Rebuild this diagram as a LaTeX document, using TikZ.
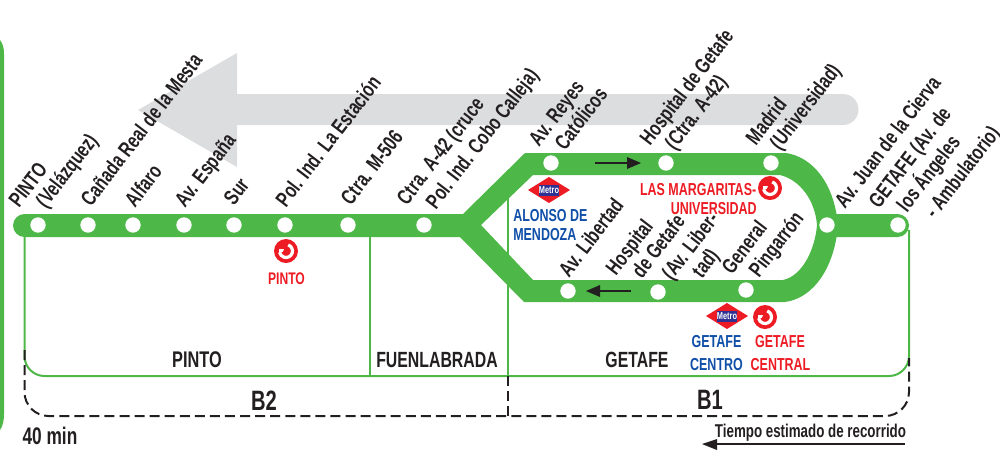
\documentclass[tikz,border=0pt]{standalone}
\usepackage{fontspec}
\setmainfont{Liberation Sans}
\newfontfamily\cnA[FakeStretch=0.72]{Liberation Sans}
\newfontfamily\cnB[FakeStretch=0.74]{Liberation Sans}
\definecolor{lineG}{HTML}{4DB848}
\definecolor{arrG}{HTML}{DCDDDF}
\definecolor{redT}{HTML}{ED1C24}
\definecolor{blueT}{HTML}{0F4FA8}
\definecolor{metroB}{HTML}{2E3192}
\definecolor{inkT}{HTML}{231F20}
\tikzset{
  diag/.style={anchor=base west,rotate=52.5,inner sep=0pt,text=inkT,font=\cnB\bfseries\fontsize{16}{18}\selectfont,xshift=-1.2pt},
  hlab/.style={anchor=base,inner sep=0pt,font=\cnA\bfseries\fontsize{#1}{16}\selectfont},
  stopdot/.style={circle,fill=white,draw=none,minimum size=11.5pt,inner sep=0pt},
  thinG/.style={draw=lineG,line width=1.5pt},
  dashB/.style={draw=inkT,line width=1.5pt,dash pattern=on 7.5pt off 3.8pt},
  renfe/.pic={
    \fill[redT] (0,0) circle (12);
    \draw[white,line width=2.4pt] (-70:6.5) arc (-70:170:6.5);
    \fill[white] (-7,-2) rectangle (-1,1);
    \fill[redT] (0.5,0.5) circle (3.4);
  },
  metro/.pic={
    \fill[redT] (-21,0) -- (0,-13) -- (21,0) -- (0,13) -- cycle;
    \fill[metroB] (-10,-5.5) rectangle (10,5.5);
    \node[text=white,inner sep=0pt,font=\cnB\bfseries\fontsize{7.5}{9}\selectfont] at (0,0) {Metro};
  }
}
\begin{document}
\begin{tikzpicture}[x=0.75pt,y=-0.75pt]
\useasboundingbox (0,0) rectangle (1000,451);
% left bar
\fill[lineG] (0,40) .. controls (3,44) and (4,48) .. (4,54) -- (4,414) .. controls (4,420) and (3,426) .. (0,430) -- cycle;
% grey arrow
\fill[arrG] (138,110) -- (237,53) -- (237,94) -- (843,94) arc (-90:90:15.5) -- (237,125) -- (237,167) -- cycle;
% thin frames
\draw[thinG] (24.5,230) -- (24.5,356) arc (180:90:20) -- (889,376) arc (90:0:20) -- (909,230);
\draw[thinG] (370,230) -- (370,376);
\draw[thinG] (507.5,195) -- (507.5,376);
% dashed frame
\draw[dashB] (24.5,350) -- (24.5,392) arc (180:90:24) -- (885,416) arc (90:0:24) -- (909,358);
\draw[dashB] (507.5,376) -- (507.5,416);
% main line
\fill[lineG] (24.5,214) -- (465,214) -- (465,237) -- (24.5,237) arc (90:270:11.5) -- cycle;
\fill[lineG] (830,214) -- (897.5,214) arc (-90:90:11.5) -- (830,237) -- cycle;
\fill[lineG,even odd rule]
  (452,225) -- (463,214) -- (525,153) -- (786,153) .. controls (812,157) and (834,182) .. (838,225)
  .. controls (835,265) and (815,298) .. (785,302) -- (524,302) -- (460,237) -- cycle
  (481,225) -- (533,175) -- (780,175) .. controls (800,180) and (815,200) .. (817,225)
  .. controls (815,250) and (802,276) .. (783,280) -- (533,280) -- cycle;
% stops
\foreach \n/\x/\y in {s1/38/225,s2/88/225,s3/133/225,s4/184/225,s5/234/225,s6/285/225,s7/348/225,s8/424/225,s9/551/163,s10/666/163,s11/771/163,s12/827/225,s13/898/225,s14/568/291,s15/658/292,s16/746/290}
  \node[stopdot] (\n) at (\x,\y) {};
% direction arrows
\coordinate (ta) at (595,163); \coordinate (tb) at (641,163);
\fill[inkT] (ta) ++(0,-1) rectangle (628,164);
\fill[inkT] (tb) -- (627,157) -- (627,169) -- cycle;
\coordinate (ba) at (631,291); \coordinate (bb) at (586,291);
\fill[inkT] (ba) ++(0,-1) rectangle (599,292);
\fill[inkT] (bb) -- (600,285) -- (600,297) -- cycle;
\coordinate (ca) at (905,444); \coordinate (cb) at (702,444);
\fill[inkT] (ca) ++(0,-1.2) rectangle (716,445.2);
\fill[inkT] (cb) -- (717,439) -- (717,450) -- cycle;
% logos
\pic at (286,251) {renfe};
\pic at (770,188) {renfe};
\pic at (765,317) {renfe};
\pic at (549,190) {metro};
\pic at (727,316) {metro};
% diagonal labels
\node[diag] (d1) at (20,207) {PINTO};
\node[diag] (d2) at (47,208) {(Velázquez)};
\node[diag] (d3) at (92,206) {Cañada Real de la Mesta};
\node[diag] (d4) at (136,207) {Alfaro};
\node[diag] (d5) at (186,207) {Av. España};
\node[diag] (d6) at (235,205) {Sur};
\node[diag] (d7) at (287,207) {Pol. Ind. La Estación};
\node[diag] (d8) at (352,205) {Ctra. M-506};
\node[diag] (d9) at (408,205) {Ctra. A-42 (cruce};
\node[diag] (d10) at (437,209) {Pol. Ind. Cobo Calleja)};
\node[diag] (d11) at (540,146) {Av. Reyes};
\node[diag] (d12) at (566,150) {Católicos};
\node[diag] (d13) at (651,145) {Hospital de Getafe};
\node[diag] (d14) at (676,150) {(Ctra. A-42)};
\node[diag] (d15) at (757,145) {Madrid};
\node[diag] (d16) at (781,150) {(Universidad)};
\node[diag] (d17) at (846,208) {Av. Juan de la Cierva};
\node[diag] (d18) at (880,208) {GETAFE (Av. de};
\node[diag] (d19) at (908,212) {los Ángeles};
\node[diag] (d20) at (936,218) {- Ambulatorio)};
\node[diag] (d21) at (570,277) {Av. Libertad};
\node[diag] (d22) at (617,275) {Hospital};
\node[diag] (d23) at (643,278) {de Getafe};
\node[diag] (d24) at (673,280) {(Av. Liber-};
\node[diag] (d25) at (703,278) {tad)};
\node[diag] (d26) at (733,274) {General};
\node[diag] (d27) at (760,277) {Pingarrón};
% horizontal labels
\node[hlab=12.6,text=redT] (h1) at (286.5,284) {PINTO};
\node[hlab=17,text=inkT] (h2) at (197,367.5) {PINTO};
\node[hlab=16.5,text=inkT] (h3) at (437,367.5) {FUENLABRADA};
\node[hlab=16.5,text=inkT] (h4) at (637,367.5) {GETAFE};
\node[hlab=21,text=inkT] (h5) at (264,410) {B2};
\node[hlab=21,text=inkT] (h6) at (710,409) {B1};
\node[hlab=18,text=inkT] (h7) at (50,444) {40 min};
\node[hlab=13.9,text=inkT] (h8) at (810.5,437) {Tiempo estimado de recorrido};
\node[hlab=13,text=blueT,anchor=base west] (h9) at (513,221) {ALONSO DE};
\node[hlab=13,text=blueT,anchor=base west] (h10) at (513,240) {MENDOZA};
\node[hlab=13,text=blueT] (h11) at (716.5,347.5) {GETAFE};
\node[hlab=13,text=blueT] (h12) at (716.5,370) {CENTRO};
\node[hlab=13,text=redT] (h13) at (780,347.5) {GETAFE};
\node[hlab=13,text=redT] (h14) at (780.5,370) {CENTRAL};
\node[hlab=13,text=redT,anchor=base east] (h15) at (756.5,195) {LAS MARGARITAS-};
\node[hlab=13,text=redT,anchor=base east] (h16) at (757,214) {UNIVERSIDAD};
\end{tikzpicture}
\end{document}
